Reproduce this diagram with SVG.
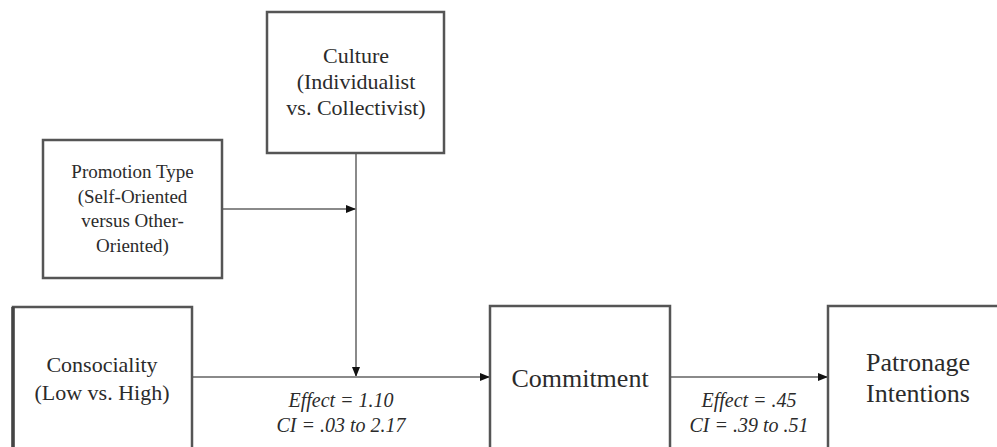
<svg xmlns="http://www.w3.org/2000/svg" width="997" height="447" viewBox="0 0 997 447">
<defs>
<style>
.box{fill:#fff;stroke:#555;stroke-width:2.5}
.con{stroke:#8a8a8a;stroke-width:2;fill:none}
text{fill:#2b2b2b;text-anchor:middle}
.s19{font-size:19px}
.s22{font-size:22px}
.s26{font-size:26px}
.lab{font-size:20px;font-style:italic}
</style>
<marker id="ah" markerWidth="10" markerHeight="8" refX="10" refY="4" orient="auto" markerUnits="userSpaceOnUse">
<path d="M0,0 L10,4 L0,8 Z" fill="#111"/>
</marker>
</defs>
<rect width="997" height="447" fill="#fff"/>
<g font-family="'Liberation Serif', Tinos, 'Times New Roman', 'DejaVu Serif', serif">
<g id="connectors">
<line class="con" x1="356" y1="153" x2="356" y2="377" marker-end="url(#ah)"/>
<line class="con" x1="222" y1="209" x2="356" y2="209" marker-end="url(#ah)"/>
<line class="con" x1="192" y1="377" x2="490" y2="377" marker-end="url(#ah)"/>
<line class="con" x1="670" y1="377" x2="828" y2="377" marker-end="url(#ah)"/>
<text class="lab" x="341" y="407">Effect = 1.10</text>
<text class="lab" x="341" y="432">CI = .03 to 2.17</text>
<text class="lab" x="749" y="407">Effect = .45</text>
<text class="lab" x="749" y="432">CI = .39 to .51</text>
</g>
<g id="culture">
<rect class="box" x="267" y="12" width="177" height="141"/>
<text class="s22" x="356" y="63">Culture</text>
<text class="s22" x="356" y="89">(Individualist</text>
<text class="s22" x="356" y="115">vs. Collectivist)</text>
</g>
<g id="promotion">
<rect class="box" x="43" y="140" width="179" height="138"/>
<text class="s19" x="132.5" y="178">Promotion Type</text>
<text class="s19" x="132.5" y="203">(Self-Oriented</text>
<text class="s19" x="132.5" y="227">versus Other-</text>
<text class="s19" x="132.5" y="252">Oriented)</text>
</g>
<g id="consociality">
<rect class="box" x="13" y="307" width="179" height="160"/>
<line x1="13" y1="307" x2="13" y2="447" stroke="#444" stroke-width="3.5"/>
<text class="s22" x="102" y="372">Consociality</text>
<text class="s22" x="102" y="400">(Low vs. High)</text>
</g>
<g id="commitment">
<rect class="box" x="490" y="306" width="180" height="160"/>
<text class="s26" x="580" y="387">Commitment</text>
</g>
<g id="patronage">
<rect class="box" x="828" y="306" width="180" height="160"/>
<text class="s26" x="918" y="371">Patronage</text>
<text class="s26" x="918" y="402">Intentions</text>
</g>
</g>
</svg>
